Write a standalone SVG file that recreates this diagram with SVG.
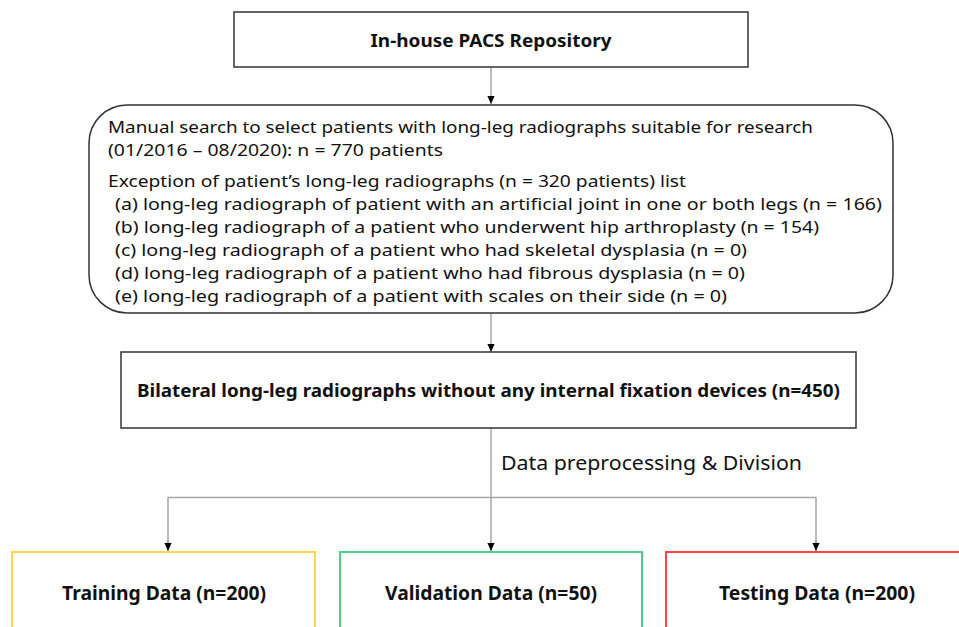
<svg xmlns="http://www.w3.org/2000/svg" width="959" height="627" viewBox="0 0 959 627">
<defs>
<style>
.box{fill:#fff;stroke:#333;stroke-width:1.5}
.t{font-family:"Noto Sans","Open Sans","Liberation Sans",sans-serif;fill:#111}
.b{font-weight:bold}
.c{text-anchor:middle}
.ln{fill:none;stroke:#a6a6a6;stroke-width:1.5}
</style>
<marker id="arr" markerWidth="10" markerHeight="9" refX="9" refY="5" orient="auto" markerUnits="userSpaceOnUse" viewBox="0 0 10 10">
<path d="M0,1 L9,5 L0,9 Z" fill="#000"/>
</marker>
</defs>
<rect width="959" height="627" fill="#fff"/>
<g id="connectors">
<line class="ln" x1="491" y1="67" x2="491" y2="104" marker-end="url(#arr)"/>
<line class="ln" x1="491" y1="313" x2="491" y2="352" marker-end="url(#arr)"/>
<line class="ln" x1="491" y1="428" x2="491" y2="551" marker-end="url(#arr)"/>
<polyline class="ln" points="168,551 168,497.5 816,497.5 816,551"/>
<line class="ln" x1="168" y1="540" x2="168" y2="551" marker-end="url(#arr)"/>
<line class="ln" x1="816" y1="540" x2="816" y2="551" marker-end="url(#arr)"/>
<text class="t" x="501" y="470" font-size="20" textLength="301" lengthAdjust="spacingAndGlyphs">Data preprocessing &amp; Division</text>
</g>
<g id="pacs">
<rect class="box" x="234" y="12" width="514" height="55"/>
<text class="t b c" x="491" y="47" font-size="18.5" textLength="241" lengthAdjust="spacingAndGlyphs">In-house PACS Repository</text>
</g>
<g id="search">
<rect class="box" x="89" y="105" width="804" height="208" rx="38" ry="38"/>
<g class="t" font-size="17">
<text x="108" y="133" textLength="705" lengthAdjust="spacingAndGlyphs">Manual search to select patients with long-leg radiographs suitable for research</text>
<text x="108" y="156" textLength="335" lengthAdjust="spacingAndGlyphs">(01/2016 – 08/2020): n = 770 patients</text>
<text x="108" y="187" textLength="578" lengthAdjust="spacingAndGlyphs">Exception of patient’s long-leg radiographs (n = 320 patients) list</text>
<text x="115" y="210" textLength="767" lengthAdjust="spacingAndGlyphs">(a) long-leg radiograph of patient with an artificial joint in one or both legs (n = 166)</text>
<text x="115" y="233" textLength="704" lengthAdjust="spacingAndGlyphs">(b) long-leg radiograph of a patient who underwent hip arthroplasty (n = 154)</text>
<text x="115" y="256" textLength="632" lengthAdjust="spacingAndGlyphs">(c) long-leg radiograph of a patient who had skeletal dysplasia (n = 0)</text>
<text x="115" y="279" textLength="630" lengthAdjust="spacingAndGlyphs">(d) long-leg radiograph of a patient who had fibrous dysplasia (n = 0)</text>
<text x="115" y="302" textLength="612" lengthAdjust="spacingAndGlyphs">(e) long-leg radiograph of a patient with scales on their side (n = 0)</text>
</g>
</g>
<g id="bilateral">
<rect class="box" x="121" y="352" width="735" height="76"/>
<text class="t b c" x="488.5" y="397" font-size="18.5" textLength="703" lengthAdjust="spacingAndGlyphs">Bilateral long-leg radiographs without any internal fixation devices (n=450)</text>
</g>
<g id="training">
<rect x="12" y="552" width="303" height="90" fill="#fff" stroke="#ffd54a" stroke-width="2"/>
<text class="t b c" x="164" y="600" font-size="19" textLength="204" lengthAdjust="spacingAndGlyphs">Training Data (n=200)</text>
</g>
<g id="validation">
<rect x="340" y="552" width="302" height="90" fill="#fff" stroke="#4fcc85" stroke-width="2"/>
<text class="t b c" x="491" y="600" font-size="19" textLength="212" lengthAdjust="spacingAndGlyphs">Validation Data (n=50)</text>
</g>
<g id="testing">
<rect x="666" y="552" width="310" height="90" fill="#fff" stroke="#ff4545" stroke-width="2"/>
<text class="t b c" x="817" y="600" font-size="19" textLength="196" lengthAdjust="spacingAndGlyphs">Testing Data (n=200)</text>
</g>
</svg>
